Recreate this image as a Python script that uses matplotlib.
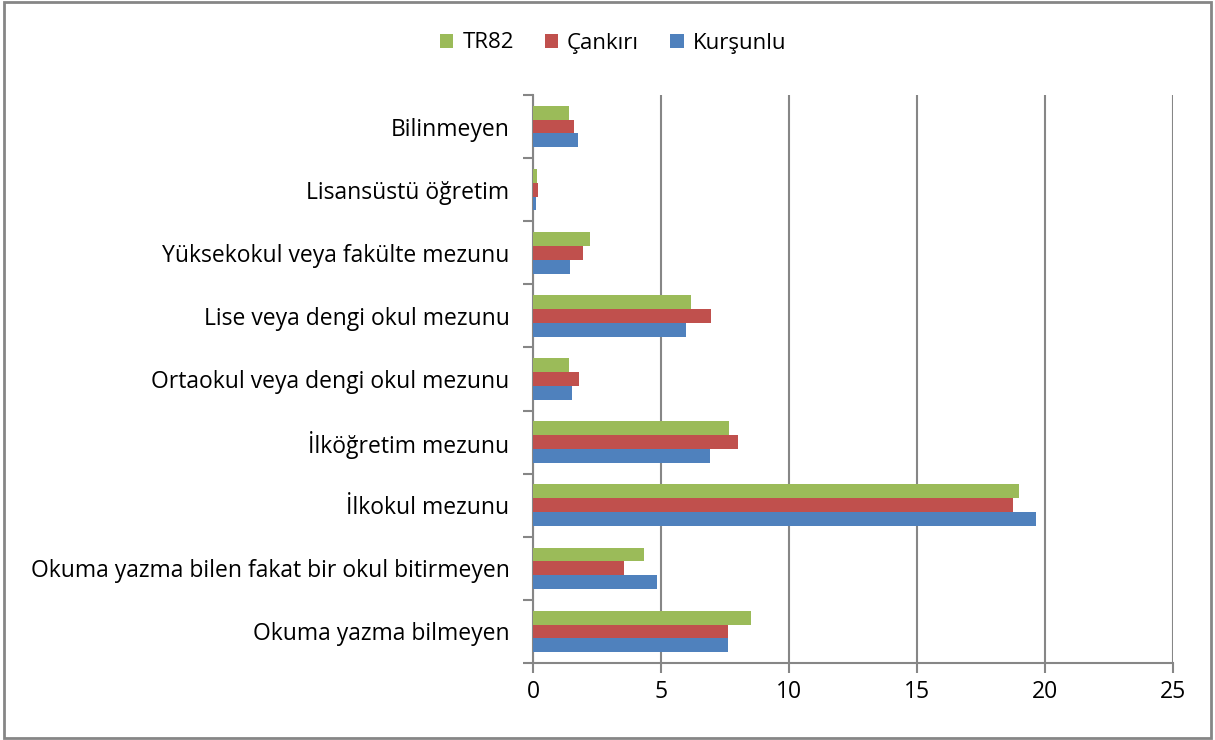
import matplotlib
matplotlib.use("Agg")
import matplotlib.pyplot as plt
import numpy as np
from matplotlib.patches import Rectangle

categories = ["Okuma yazma bilmeyen", "Okuma yazma bilen fakat bir okul bitirmeyen",
              "İlkokul mezunu", "İlköğretim mezunu", "Ortaokul veya dengi okul mezunu",
              "Lise veya dengi okul mezunu", "Yüksekokul veya fakülte mezunu",
              "Lisansüstü öğretim", "Bilinmeyen"]
kursunlu = [7.60, 4.84, 19.66, 6.91, 1.51, 5.97, 1.44, 0.10, 1.74]
cankiri = [7.61, 3.56, 18.76, 8.00, 1.79, 6.97, 1.96, 0.18, 1.62]
tr82 = [8.50, 4.34, 18.99, 7.64, 1.40, 6.16, 2.22, 0.14, 1.40]
series_names = ["Kurşunlu", "Çankırı", "TR82"]
colors = ["#4F81BD", "#C0504D", "#9BBB59"]
xticks = [0, 5, 10, 15, 20, 25]

plt.rcParams['font.family'] = ['Open Sans', 'DejaVu Sans']
fig = plt.figure(figsize=(12.15, 7.40), dpi=100)
ax = fig.add_axes([533/1215, 1-663/740, (1173-533)/1215, (663-95)/740])

y = np.arange(len(categories))
h = 0.22
series = [kursunlu, cankiri, tr82]
handles = []
for i, (vals, name, c) in enumerate(zip(series, series_names, colors)):
    b = ax.barh(y + (i - 1) * h, vals, height=h, color=c, label=name, zorder=3)
    handles.append(b)

ax.set_xlim(0, 25)
ax.set_ylim(-0.5, len(categories) - 0.5)
ax.set_xticks(xticks)
ax.set_xticklabels([str(t) for t in xticks], fontsize=16.5)
ax.xaxis.grid(True, color="#868686", linewidth=1.5, zorder=0)
ax.set_yticks(y)
ax.set_yticklabels(categories, fontsize=16.5)
ax.set_yticks(np.arange(-0.5, len(categories), 1), minor=True)
ax.tick_params(axis='y', which='major', length=0, pad=17)
ax.tick_params(axis='y', which='minor', length=7, width=1.5, color="#868686")
ax.tick_params(axis='x', length=7, width=1.5, color="#868686", pad=5)
for s in ['top', 'right']:
    ax.spines[s].set_visible(False)
for s in ['left', 'bottom']:
    ax.spines[s].set_color("#868686")
    ax.spines[s].set_linewidth(1.5)

leg = fig.legend(handles[::-1], series_names[::-1], loc='center', ncol=3,
                 bbox_to_anchor=(613/1215, 1-43/740), frameon=False, fontsize=16,
                 handlelength=0.6, handleheight=0.6, columnspacing=1.4, handletextpad=0.4)

fig.patches.append(Rectangle((0.003, 0.003), 0.994, 0.994, transform=fig.transFigure,
                             fill=False, edgecolor="#868686", linewidth=2))
fig.savefig("out.png", dpi=100)
